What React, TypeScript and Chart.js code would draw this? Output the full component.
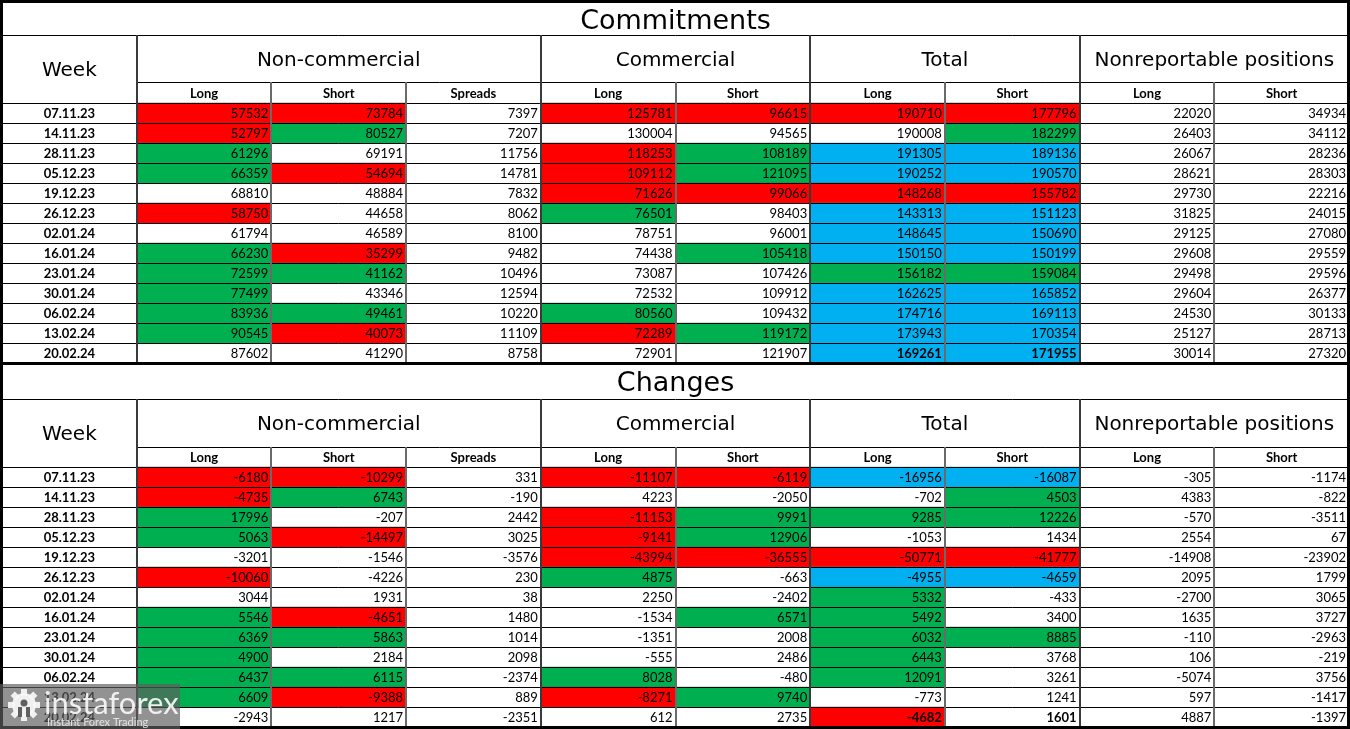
import React, { useEffect, useRef } from "react";
import { Chart, registerables } from "chart.js";

Chart.register(...registerables);

// ---------------- DATA ----------------
const weeks = ["07.11.23", "14.11.23", "28.11.23", "05.12.23", "19.12.23", "26.12.23", "02.01.24", "16.01.24", "23.01.24", "30.01.24", "06.02.24", "13.02.24", "20.02.24"];

const groups = ["Non-commercial", "Commercial", "Total", "Nonreportable positions"];
const subHeaders = ["Long", "Short", "Spreads", "Long", "Short", "Long", "Short", "Long", "Short"];

// Commitments
const ncLong = [57532, 52797, 61296, 66359, 68810, 58750, 61794, 66230, 72599, 77499, 83936, 90545, 87602];
const ncShort = [73784, 80527, 69191, 54694, 48884, 44658, 46589, 35299, 41162, 43346, 49461, 40073, 41290];
const ncSpreads = [7397, 7207, 11756, 14781, 7832, 8062, 8100, 9482, 10496, 12594, 10220, 11109, 8758];
const cLong = [125781, 130004, 118253, 109112, 71626, 76501, 78751, 74438, 73087, 72532, 80560, 72289, 72901];
const cShort = [96615, 94565, 108189, 121095, 99066, 98403, 96001, 105418, 107426, 109912, 109432, 119172, 121907];
const tLong = [190710, 190008, 191305, 190252, 148268, 143313, 148645, 150150, 156182, 162625, 174716, 173943, 169261];
const tShort = [177796, 182299, 189136, 190570, 155782, 151123, 150690, 150199, 159084, 165852, 169113, 170354, 171955];
const nrLong = [22020, 26403, 26067, 28621, 29730, 31825, 29125, 29608, 29498, 29604, 24530, 25127, 30014];
const nrShort = [34934, 34112, 28236, 28303, 22216, 24015, 27080, 29559, 29596, 26377, 30133, 28713, 27320];

// Changes
const dNcLong = [-6180, -4735, 17996, 5063, -3201, -10060, 3044, 5546, 6369, 4900, 6437, 6609, -2943];
const dNcShort = [-10299, 6743, -207, -14497, -1546, -4226, 1931, -4651, 5863, 2184, 6115, -9388, 1217];
const dNcSpreads = [331, -190, 2442, 3025, -3576, 230, 38, 1480, 1014, 2098, -2374, 889, -2351];
const dCLong = [-11107, 4223, -11153, -9141, -43994, 4875, 2250, -1534, -1351, -555, 8028, -8271, 612];
const dCShort = [-6119, -2050, 9991, 12906, -36555, -663, -2402, 6571, 2008, 2486, -480, 9740, 2735];
const dTLong = [-16956, -702, 9285, -1053, -50771, -4955, 5332, 5492, 6032, 6443, 12091, -773, -4682];
const dTShort = [-16087, 4503, 12226, 1434, -41777, -4659, -433, 3400, 8885, 3768, 3261, 1241, 1601];
const dNrLong = [-305, 4383, -570, 2554, -14908, 2095, -2700, 1635, -110, 106, -5074, 597, 4887];
const dNrShort = [-1174, -822, -3511, 67, -23902, 1799, 3065, 3727, -2963, -219, 3756, -1417, -1397];

// cell highlight codes (R red, G green, B blue, W none), one char per value column
const commitColors = [
  "RRWRRRRWW",
  "RGWWWWGWW",
  "GWWRGBBWW",
  "GRWRGBBWW",
  "WWWRRRRWW",
  "RWWGWBBWW",
  "WWWWWBBWW",
  "GRWWGBBWW",
  "GGWWWGGWW",
  "GWWWWBBWW",
  "GGWGWBBWW",
  "GRWRGBBWW",
  "WWWWWBBWW",
];
const changeColors = [
  "RRWRRBBWW",
  "RGWWWWGWW",
  "GWWRGGGWW",
  "GRWRGWWWW",
  "WWWRRRRWW",
  "RWWGWBBWW",
  "WWWWWGWWW",
  "GRWWGGWWW",
  "GGWWWGGWW",
  "GWWWWGWWW",
  "GGWGWGWWW",
  "GRWRGWWWW",
  "WWWWWRWWW",
];

// ---------------- LAYOUT / STYLE ----------------
const W = 1350;
const H = 729;
const COLOR_MAP: Record<string, string> = { R: "#FF0000", G: "#00B050", B: "#00B0F0" };
const Y_MAX = 36.45; // y units: one data row = 1 unit
const GROUP_SPANS = [[1, 4], [4, 6], [6, 8], [8, 10]];
const NUM_FONT = "Lato";
const HEAD_FONT = "'DejaVu Sans'";

const tables = [
  {
    title: "Commitments",
    start: 0.1, titleH: 1.65, headH: 2.35, subH: 1.05,
    cols: [ncLong, ncShort, ncSpreads, cLong, cShort, tLong, tShort, nrLong, nrShort],
    colors: commitColors,
  },
  {
    title: "Changes",
    start: 18.15, titleH: 1.8, headH: 2.4, subH: 1.0,
    cols: [dNcLong, dNcShort, dNcSpreads, dCLong, dCShort, dTLong, dTShort, dNrLong, dNrShort],
    colors: changeColors,
  },
];

function dataTop(t: any) {
  return t.start + t.titleH + t.headH + t.subH;
}

const tablePlugin = {
  id: "tablePlugin",
  beforeDraw(chart: any) {
    const ctx = chart.ctx;
    ctx.save();
    ctx.fillStyle = "#ffffff";
    ctx.fillRect(0, 0, chart.width, chart.height);
    ctx.restore();
  },
  afterDatasetsDraw(chart: any) {
    const { ctx } = chart;
    const xs = chart.scales.x;
    const ys = chart.scales.y;
    const px = (v: number) => xs.getPixelForValue(v);
    const py = (v: number) => ys.getPixelForValue(v);
    const hLine = (y: number, c0: number, c1: number, lw = 1, col = "#000") => {
      ctx.beginPath();
      ctx.strokeStyle = col;
      ctx.lineWidth = lw;
      const yy = lw % 2 === 1 ? Math.round(py(y)) + 0.5 : Math.round(py(y));
      ctx.moveTo(px(c0), yy);
      ctx.lineTo(px(c1), yy);
      ctx.stroke();
    };
    const vLine = (c: number, y0: number, y1: number, lw = 2, col = "#5a5a5a") => {
      ctx.beginPath();
      ctx.strokeStyle = col;
      ctx.lineWidth = lw;
      const xx = lw % 2 === 1 ? Math.round(px(c)) + 0.5 : Math.round(px(c));
      ctx.moveTo(xx, py(y0));
      ctx.lineTo(xx, py(y1));
      ctx.stroke();
    };

    ctx.save();
    tables.forEach((t) => {
      const t1 = t.start + t.titleH;
      const h1 = t1 + t.headH;
      const s1 = h1 + t.subH;
      const rows = weeks.length;
      const d1 = s1 + rows;

      // horizontal lines
      hLine(t1, 0, 10, 1);
      hLine(h1, 1, 10, 1);
      hLine(s1, 0, 10, 1);
      for (let r = 1; r < rows; r++) hLine(s1 + r, 0, 10, 1);

      // vertical lines
      vLine(1, t1, d1, 2, "#3a3a3a");
      GROUP_SPANS.forEach(([a]) => vLine(a, t1, d1, 2, "#3a3a3a"));
      for (let c = 2; c < 10; c++) {
        if (!GROUP_SPANS.some(([a]) => a === c)) vLine(c, h1, d1, 2, "#6a6a6a");
      }

      // title
      ctx.fillStyle = "#000";
      ctx.textAlign = "center";
      ctx.textBaseline = "middle";
      ctx.font = `27px ${HEAD_FONT}`;
      ctx.fillText(t.title, px(5), py(t.start + t.titleH / 2) + 3);

      // Week header
      ctx.font = `20px ${HEAD_FONT}`;
      ctx.fillText("Week", px(0.5), py((t1 + s1) / 2) + 2);

      // group headers
      GROUP_SPANS.forEach(([a, b], gi) => {
        ctx.fillText(groups[gi], (px(a) + px(b)) / 2, py(t1 + t.headH / 2) + 2);
      });

      // sub headers
      ctx.font = `bold 13px ${NUM_FONT}`;
      subHeaders.forEach((s, i) => {
        ctx.fillText(s, px(i + 1.5), py(h1 + t.subH / 2) + 1);
      });

      // week labels
      weeks.forEach((w, r) => {
        ctx.font = `bold 13px ${NUM_FONT}`;
        ctx.textAlign = "center";
        ctx.fillText(w, px(0.5), py(s1 + r + 0.5) + 1);
      });

      // values
      ctx.textAlign = "right";
      t.cols.forEach((arr, ci) => {
        arr.forEach((v, r) => {
          const bold = r === rows - 1 && (ci === 5 || ci === 6);
          ctx.font = `${bold ? "bold " : ""}13px ${NUM_FONT}`;
          ctx.fillText(String(v), px(ci + 2) - 3, py(s1 + r + 0.5) + 1);
        });
      });
    });

    // thick separator between tables and outer border
    hLine(tables[1].start, 0, 10, 3);
    ctx.strokeStyle = "#000";
    ctx.lineWidth = 3;
    ctx.strokeRect(1.5, 1.5, chart.width - 3, chart.height - 3);
    ctx.restore();
  },
  afterDraw(chart: any) {
    // watermark
    const ctx = chart.ctx;
    const by = chart.height - 45;
    ctx.save();
    ctx.fillStyle = "rgba(95,95,95,0.68)";
    ctx.fillRect(0, by, 180, 45);
    // gear
    const cx = 24, cy = by + 21;
    ctx.fillStyle = "rgba(245,245,245,0.95)";
    for (let i = 0; i < 8; i++) {
      const a = (i * Math.PI) / 4;
      ctx.save();
      ctx.translate(cx, cy);
      ctx.rotate(a);
      ctx.fillRect(-3, -16, 6, 7);
      ctx.restore();
    }
    ctx.beginPath();
    ctx.arc(cx, cy, 12, 0, Math.PI * 2);
    ctx.fill();
    ctx.fillStyle = "rgba(95,95,95,1)";
    ctx.beginPath();
    ctx.arc(cx, cy - 2, 3.5, 0, Math.PI * 2);
    ctx.fill();
    ctx.fillRect(cx - 6, cy + 2, 4, 10);
    ctx.fillRect(cx + 2, cy + 2, 4, 10);
    ctx.fillStyle = "rgba(245,245,245,0.95)";
    ctx.textAlign = "left";
    ctx.textBaseline = "alphabetic";
    ctx.font = "31px Lato";
    ctx.fillText("instaforex", 44, by + 30);
    ctx.font = "11px Lato";
    ctx.fillStyle = "rgba(235,235,235,0.9)";
    ctx.fillText("Instant Forex Trading", 47, by + 42);
    ctx.restore();
  },
};

export default function App() {
  const ref = useRef<HTMLCanvasElement | null>(null);

  useEffect(() => {
    document.body.style.margin = "0";
    if (!ref.current) return;
    const cells: any[] = [];
    const colors: string[] = [];
    tables.forEach((t) => {
      const top = dataTop(t);
      t.colors.forEach((row, ri) => {
        row.split("").forEach((ch, ci) => {
          if (ch !== "W") {
            cells.push({ x: ci + 1.5, y: [top + ri, top + ri + 1] });
            colors.push(COLOR_MAP[ch]);
          }
        });
      });
    });

    const chart = new Chart(ref.current, {
      type: "bar",
      data: {
        datasets: [
          {
            data: cells,
            backgroundColor: colors,
            borderWidth: 0,
            categoryPercentage: 1,
            barPercentage: 1,
            grouped: false,
          } as any,
        ],
      },
      options: {
        animation: false,
        responsive: false,
        devicePixelRatio: 1,
        events: [],
        layout: { padding: { left: 2, right: 1, top: 0, bottom: 0 } },
        plugins: {
          legend: { display: false },
          tooltip: { enabled: false },
          title: { display: false },
        },
        scales: {
          x: {
            type: "linear",
            min: 0,
            max: 10,
            offset: false,
            display: false,
            ticks: { stepSize: 1 },
            grid: { display: false, offset: false },
          },
          y: {
            type: "linear",
            min: 0,
            max: Y_MAX,
            reverse: true,
            display: false,
            grid: { display: false },
          },
        },
      } as any,
      plugins: [tablePlugin as any],
    });
    return () => chart.destroy();
  }, []);

  return (
    <div style={{ width: W, height: H }}>
      <canvas ref={ref} width={W} height={H} style={{ display: "block" }} />
    </div>
  );
}
